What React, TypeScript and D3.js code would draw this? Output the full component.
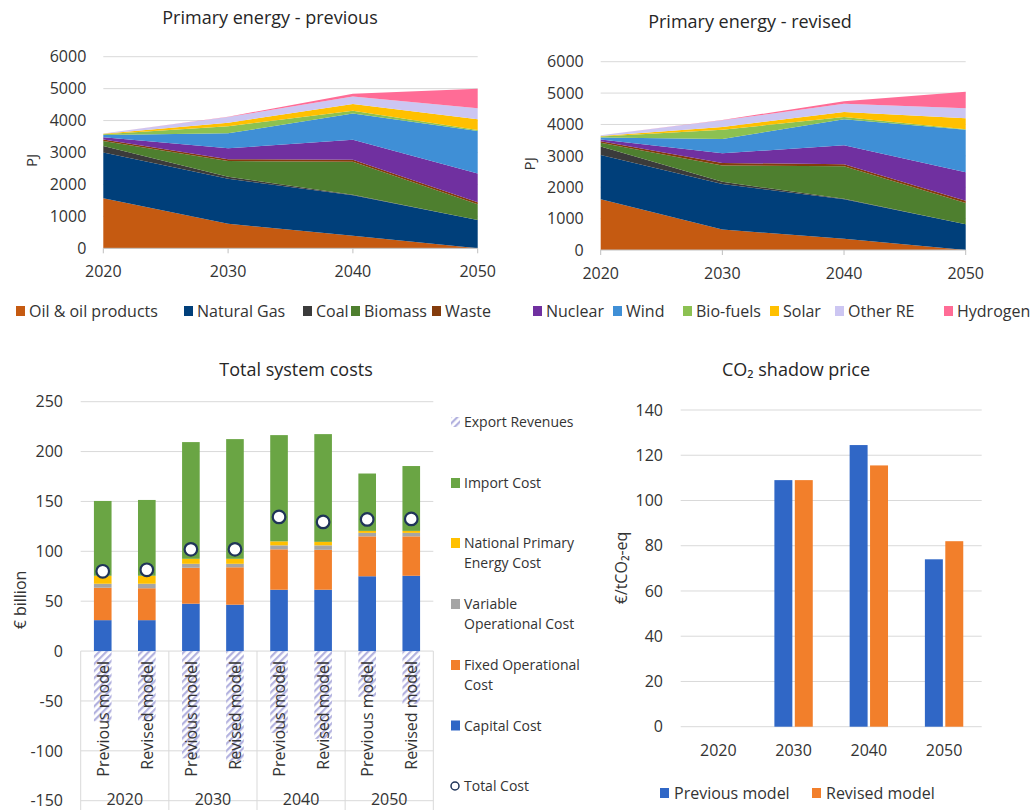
import React from "react";
import * as d3 from "d3";

// ---------- Primary energy (PJ) ----------
const years = [2020, 2030, 2040, 2050];
const sources = [
  "Oil & oil products",
  "Natural Gas",
  "Coal",
  "Biomass",
  "Waste",
  "Nuclear",
  "Wind",
  "Bio-fuels",
  "Solar",
  "Other RE",
  "Hydrogen",
];
const sourceColors = [
  "#C55A11",
  "#003F7A",
  "#3B3B3B",
  "#4E7F2F",
  "#843C0C",
  "#7030A0",
  "#3F8FD6",
  "#8CC152",
  "#FFC000",
  "#CCC6F2",
  "#FF6C96",
];

// previous model, one array per source (2020, 2030, 2040, 2050)
const prevOil = [1570, 770, 390, 0];
const prevGas = [1430, 1410, 1270, 887];
const prevCoal = [200, 60, 15, 0];
const prevBiomass = [160, 490, 1035, 493];
const prevWaste = [50, 60, 60, 60];
const prevNuclear = [65, 340, 630, 900];
const prevWind = [70, 470, 820, 1334];
const prevBiofuels = [30, 220, 90, 30];
const prevSolar = [10, 115, 210, 340];
const prevOtherRE = [10, 175, 230, 344];
const prevHydrogen = [0, 10, 90, 606];

// revised model
const revOil = [1614, 650, 360, 0];
const revGas = [1412, 1453, 1260, 820];
const revCoal = [270, 70, 10, 0];
const revBiomass = [120, 520, 1040, 680];
const revWaste = [50, 80, 65, 70];
const revNuclear = [55, 310, 600, 910];
const revWind = [65, 450, 835, 1350];
const revBiofuels = [30, 300, 65, 20];
const revSolar = [20, 90, 160, 345];
const revOtherRE = [20, 210, 265, 320];
const revHydrogen = [0, 10, 80, 530];

const energyTicks = [0, 1000, 2000, 3000, 4000, 5000, 6000];

const previousSeries = [
  prevOil, prevGas, prevCoal, prevBiomass, prevWaste, prevNuclear,
  prevWind, prevBiofuels, prevSolar, prevOtherRE, prevHydrogen,
];
const revisedSeries = [
  revOil, revGas, revCoal, revBiomass, revWaste, revNuclear,
  revWind, revBiofuels, revSolar, revOtherRE, revHydrogen,
];

// ---------- Total system costs (€ billion) ----------
const costBars = [
  "Previous model", "Revised model",
  "Previous model", "Revised model",
  "Previous model", "Revised model",
  "Previous model", "Revised model",
];
const costYears = ["2020", "2030", "2040", "2050"];
const capitalCost = [31, 31, 47.5, 46.5, 61.5, 61.5, 75, 75.5];
const fixedOpCost = [32.5, 32, 36, 37.5, 40.5, 40, 40, 39.5];
const variableOpCost = [4, 4.5, 4, 3.5, 4, 4.5, 3.5, 3.5];
const nationalPrimaryCost = [8, 8, 5, 5, 4, 3.5, 2, 2];
const importCost = [75, 76, 117, 120, 106.5, 108, 57.5, 65];
const exportRevenues = [-70.5, -70, -107.5, -110.5, -82, -88, -46, -53];
const costTicks = [-150, -100, -50, 0, 50, 100, 150, 200, 250];

const costLayers = [
  { name: "Capital Cost", values: capitalCost, color: "#3067C6" },
  { name: "Fixed Operational Cost", values: fixedOpCost, color: "#F27F2B" },
  { name: "Variable Operational Cost", values: variableOpCost, color: "#A5A5A5" },
  { name: "National Primary Energy Cost", values: nationalPrimaryCost, color: "#FFC000" },
  { name: "Import Cost", values: importCost, color: "#6AA544" },
];

// ---------- CO2 shadow price (€/tCO2-eq) ----------
const co2Years = ["2020", "2030", "2040", "2050"];
const co2Previous = [0, 109, 124.5, 74];
const co2Revised = [0, 109, 115.5, 82];
const co2Ticks = [0, 20, 40, 60, 80, 100, 120, 140];

const FONT = "'Open Sans', 'DejaVu Sans', sans-serif";
const TEXT = "#333333";
const GRID = "#D9D9D9";

type AreaProps = {
  title: string;
  titleX: number;
  titleY: number;
  series: number[][];
  x0: number;
  x1: number;
  yBottom: number;
  yTop: number;
  labelX: number;
};

function EnergyArea({ title, titleX, titleY, series, x0, x1, yBottom, yTop, labelX }: AreaProps) {
  const x = d3.scaleLinear().domain([2020, 2050]).range([x0, x1]);
  const y = d3.scaleLinear().domain([0, 6000]).range([yBottom, yTop]);
  const rows = years.map((yr, i) => {
    const r: Record<string, number> = { year: yr };
    sources.forEach((s, k) => (r[s] = series[k][i]));
    return r;
  });
  const stacked = d3.stack<Record<string, number>>().keys(sources)(rows);
  const area = d3
    .area<d3.SeriesPoint<Record<string, number>>>()
    .x((d) => x(d.data.year))
    .y0((d) => y(d[0]))
    .y1((d) => y(d[1]));
  return (
    <g>
      <text x={titleX} y={titleY} textAnchor="middle" fontSize={18} fill="#262626">
        {title}
      </text>
      {energyTicks.map((t) => (
        <g key={t}>
          {t > 0 && <line x1={x0} x2={x1} y1={y(t)} y2={y(t)} stroke={GRID} strokeWidth={1} />}
          <text x={x0 - 17} y={y(t)} dy="0.36em" textAnchor="end" fontSize={16} fill={TEXT}>
            {t}
          </text>
        </g>
      ))}
      {stacked.map((s, k) => (
        <path key={s.key} d={area(s) ?? ""} fill={sourceColors[k]} />
      ))}
      <line x1={x0} x2={x1} y1={y(0)} y2={y(0)} stroke="#BFBFBF" />
      {years.map((yr) => (
        <g key={yr}>
          <line x1={x(yr)} x2={x(yr)} y1={y(0)} y2={y(0) + 5} stroke="#BFBFBF" />
          <text x={x(yr)} y={y(0) + 23} dy="0.36em" textAnchor="middle" fontSize={16} fill={TEXT}>
            {yr}
          </text>
        </g>
      ))}
      <text
        transform={`translate(${labelX},${(yTop + yBottom) / 2 + 8}) rotate(-90)`}
        textAnchor="middle"
        dy="0.36em"
        fontSize={15}
        fill={TEXT}
      >
        PJ
      </text>
    </g>
  );
}

const legendX = [16, 184, 303, 351, 432, 533, 613, 683, 770, 835, 944];

function EnergyLegend() {
  return (
    <g>
      {sources.map((s, k) => (
        <g key={s} transform={`translate(${legendX[k]},311)`}>
          <rect x={0} y={-5} width={9} height={10} fill={sourceColors[k]} />
          <text x={13} y={0} dy="0.36em" fontSize={16} fill={TEXT}>
            {s}
          </text>
        </g>
      ))}
    </g>
  );
}

function CostChart() {
  const xLeft = 80.7;
  const xRight = 433.3;
  const keys = costBars.map((_, i) => String(i));
  const x = d3.scaleBand().domain(keys).range([xLeft, xRight]).paddingInner(0.6).paddingOuter(0.3);
  const y = d3.scaleLinear().domain([-150, 250]).range([800.7, 401.7]);
  const groupX = d3.scaleBand().domain(costYears).range([xLeft, xRight]);

  const rows = keys.map((k, i) => {
    const r: Record<string, number> = { idx: i };
    costLayers.forEach((l) => (r[l.name] = l.values[i]));
    return r;
  });
  const stacked = d3.stack<Record<string, number>>().keys(costLayers.map((l) => l.name))(rows);
  const totals = keys.map(
    (_, i) => costLayers.reduce((a, l) => a + l.values[i], 0) + exportRevenues[i]
  );

  const legendItems = [
    { y: 422, lines: ["Export Revenues"], kind: "hatch", color: "" },
    { y: 483, lines: ["Import Cost"], kind: "rect", color: costLayers[4].color },
    { y: 543, lines: ["National Primary", "Energy Cost"], kind: "rect", color: costLayers[3].color },
    { y: 604, lines: ["Variable", "Operational Cost"], kind: "rect", color: costLayers[2].color },
    { y: 665, lines: ["Fixed Operational", "Cost"], kind: "rect", color: costLayers[1].color },
    { y: 725.5, lines: ["Capital Cost"], kind: "rect", color: costLayers[0].color },
    { y: 786, lines: ["Total Cost"], kind: "circle", color: "" },
  ];

  return (
    <g>
      <defs>
        <pattern id="exportHatch" patternUnits="userSpaceOnUse" width={5} height={5} patternTransform="rotate(45)">
          <rect width={5} height={5} fill="#FFFFFF" />
          <rect width={2.2} height={5} fill="#B3B2DF" />
        </pattern>
      </defs>
      <text x={296} y={376} textAnchor="middle" fontSize={18} fill="#262626">
        Total system costs
      </text>
      {costTicks.map((t) => (
        <g key={t}>
          <line x1={xLeft} x2={xRight} y1={y(t)} y2={y(t)} stroke={GRID} />
          <text x={63} y={y(t)} dy="0.36em" textAnchor="end" fontSize={16} fill={TEXT}>
            {t}
          </text>
        </g>
      ))}
      {/* export revenues below zero */}
      {keys.map((k, i) => (
        <rect
          key={"ex" + k}
          x={x(k)}
          y={y(0)}
          width={x.bandwidth()}
          height={y(exportRevenues[i]) - y(0)}
          fill="url(#exportHatch)"
        />
      ))}
      {stacked.map((s, li) =>
        s.map((d, i) => (
          <rect
            key={s.key + i}
            x={x(keys[i])}
            y={y(d[1])}
            width={x.bandwidth()}
            height={Math.max(0, y(d[0]) - y(d[1]))}
            fill={costLayers[li].color}
          />
        ))
      )}
      {/* category axis */}
      {[...costYears.map((g) => groupX(g) as number), xRight].map((gx, i) => (
        <line key={"sep" + i} x1={gx} x2={gx} y1={y(0)} y2={812} stroke={GRID} />
      ))}
      {keys.map((k, i) => (
        <text
          key={"lab" + k}
          transform={`translate(${(x(k) as number) + x.bandwidth() / 2},661) rotate(-90)`}
          textAnchor="end"
          dy="0.36em"
          fontSize={16}
          fill={TEXT}
        >
          {costBars[i]}
        </text>
      ))}
      {costYears.map((g) => (
        <text
          key={"g" + g}
          x={(groupX(g) as number) + groupX.bandwidth() / 2}
          y={799}
          dy="0.36em"
          textAnchor="middle"
          fontSize={16}
          fill={TEXT}
        >
          {g}
        </text>
      ))}
      {/* total cost markers */}
      {keys.map((k, i) => (
        <circle
          key={"tc" + k}
          cx={(x(k) as number) + x.bandwidth() / 2}
          cy={y(totals[i])}
          r={6.3}
          fill="#FFFFFF"
          stroke="#1F3458"
          strokeWidth={2.2}
        />
      ))}
      <text
        transform={`translate(20,600) rotate(-90)`}
        textAnchor="middle"
        dy="0.36em"
        fontSize={16}
        fill={TEXT}
      >
        € billion
      </text>
      {/* legend */}
      {legendItems.map((it) => (
        <g key={it.lines[0]} transform={`translate(451,${it.y})`}>
          {it.kind === "rect" && <rect x={0} y={-5} width={9} height={10} fill={it.color} />}
          {it.kind === "hatch" && <rect x={0} y={-5} width={9} height={10} fill="url(#exportHatch)" />}
          {it.kind === "circle" && (
            <circle cx={4} cy={0} r={4} fill="#FFFFFF" stroke="#1F3458" strokeWidth={1.5} />
          )}
          {it.lines.map((ln, j) => (
            <text key={ln} x={13} y={j * 19.5} dy="0.36em" fontSize={14} fill={TEXT}>
              {ln}
            </text>
          ))}
        </g>
      ))}
    </g>
  );
}

function Co2Chart() {
  const xLeft = 680.7;
  const xRight = 981.7;
  const x0 = d3.scaleBand().domain(co2Years).range([xLeft, xRight]).paddingInner(0.49).paddingOuter(0.245);
  const x1 = d3.scaleBand().domain(["prev", "rev"]).range([0, x0.bandwidth()]).paddingInner(0.12);
  const y = d3.scaleLinear().domain([0, 140]).range([726.7, 410]);
  const xc = d3.scaleBand().domain(co2Years).range([xLeft, xRight]);
  const seriesList = [
    { key: "prev", name: "Previous model", values: co2Previous, color: "#3067C6" },
    { key: "rev", name: "Revised model", values: co2Revised, color: "#F27F2B" },
  ];
  return (
    <g>
      <text x={796} y={376} textAnchor="middle" fontSize={18} fill="#262626">
        CO₂ shadow price
      </text>
      {co2Ticks.map((t) => (
        <g key={t}>
          <line x1={xLeft} x2={xRight} y1={y(t)} y2={y(t)} stroke={GRID} />
          <text x={663} y={y(t)} dy="0.36em" textAnchor="end" fontSize={16} fill={TEXT}>
            {t}
          </text>
        </g>
      ))}
      {seriesList.map((s) =>
        co2Years.map((yr, i) =>
          s.values[i] > 0 ? (
            <rect
              key={s.key + yr}
              x={(x0(yr) as number) + (x1(s.key) as number)}
              y={y(s.values[i])}
              width={x1.bandwidth()}
              height={y(0) - y(s.values[i])}
              fill={s.color}
            />
          ) : null
        )
      )}
      {co2Years.map((yr) => (
        <text
          key={"x" + yr}
          x={(xc(yr) as number) + xc.bandwidth() / 2}
          y={750}
          dy="0.36em"
          textAnchor="middle"
          fontSize={16}
          fill={TEXT}
        >
          {yr}
        </text>
      ))}
      <text
        transform={`translate(621,568) rotate(-90)`}
        textAnchor="middle"
        dy="0.36em"
        fontSize={16}
        fill={TEXT}
      >
        €/tCO₂-eq
      </text>
      {seriesList.map((s, i) => (
        <g key={"lg" + s.key} transform={`translate(${i === 0 ? 660 : 812},793)`}>
          <rect x={0} y={-5} width={9} height={10} fill={s.color} />
          <text x={14} y={0} dy="0.36em" fontSize={16} fill={TEXT}>
            {s.name}
          </text>
        </g>
      ))}
    </g>
  );
}

export default function App() {
  return (
    <svg
      width={1032}
      height={810}
      viewBox="0 0 1032 810"
      style={{ position: "absolute", left: 0, top: 0, background: "#FFFFFF", fontFamily: FONT }}
    >
      <rect width={1032} height={810} fill="#FFFFFF" />
      <EnergyArea
        title="Primary energy - previous"
        titleX={270}
        titleY={24}
        series={previousSeries}
        x0={103.3}
        x1={477.7}
        yBottom={248.3}
        yTop={56.7}
        labelX={32}
      />
      <EnergyArea
        title="Primary energy - revised"
        titleX={750}
        titleY={28}
        series={revisedSeries}
        x0={600.7}
        x1={965.7}
        yBottom={250}
        yTop={61.7}
        labelX={530}
      />
      <EnergyLegend />
      <CostChart />
      <Co2Chart />
    </svg>
  );
}
